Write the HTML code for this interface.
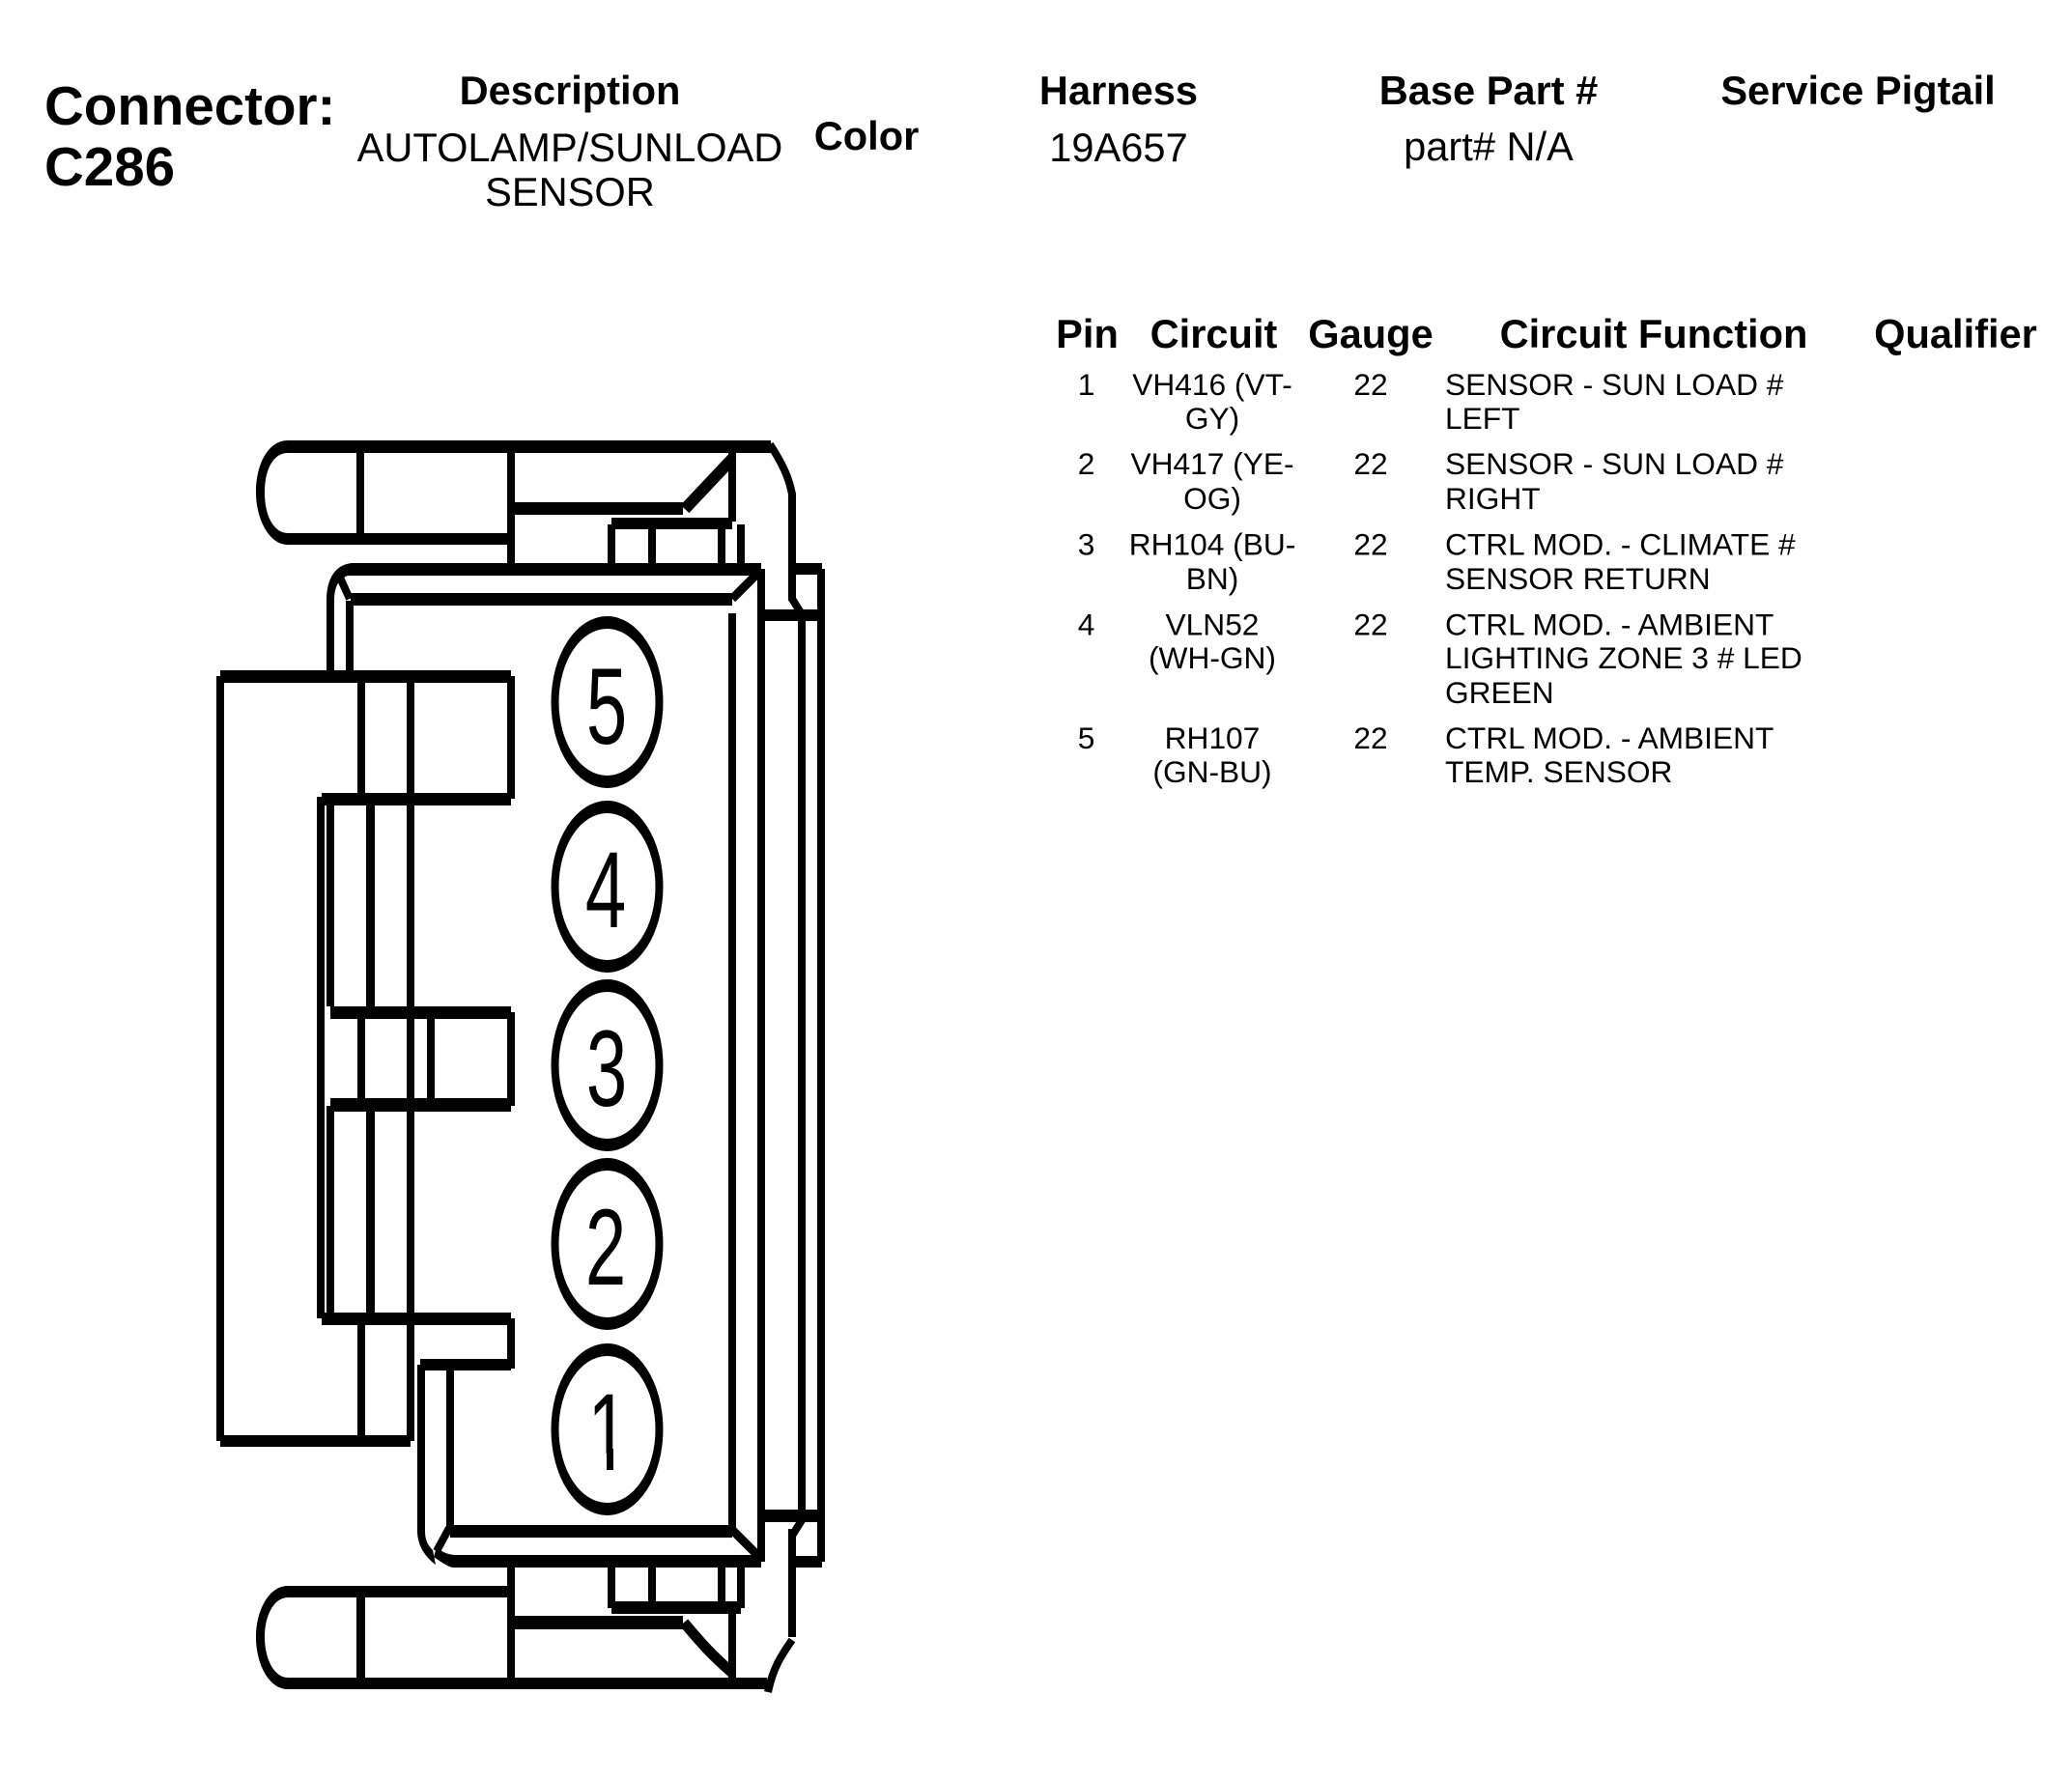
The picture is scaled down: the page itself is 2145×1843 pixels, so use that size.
<!DOCTYPE html>
<html>
<head>
<meta charset="utf-8">
<style>
html,body{margin:0;padding:0;background:#fff;}
svg{display:block;}
text{font-family:"Liberation Sans",sans-serif;fill:#000;}
.b{font-weight:bold;}
.h{font-size:41.6px;font-weight:bold;text-anchor:middle;}
.v{font-size:41.6px;text-anchor:middle;}
.t{font-size:31.7px;}
.m{text-anchor:middle;}
.d{font-size:112px;text-anchor:middle;}
</style>
</head>
<body>
<svg xmlns="http://www.w3.org/2000/svg" width="2145" height="1843" viewBox="0 0 2145 1843">
<defs><clipPath id="c1"><rect x="560" y="1400" width="140" height="105"/></clipPath></defs>
<rect width="2145" height="1843" fill="#fff"/>

<!-- Header -->
<text class="b" x="46" y="129" font-size="56.5">Connector:</text>
<text class="b" x="46" y="192" font-size="56.5">C286</text>
<text class="h" x="590" y="108">Description</text>
<text class="v" x="590" y="167">AUTOLAMP/SUNLOAD</text>
<text class="v" x="590" y="213">SENSOR</text>
<text class="h" x="897" y="155">Color</text>
<text class="h" x="1158" y="108">Harness</text>
<text class="v" x="1158" y="167">19A657</text>
<text class="h" x="1541" y="108">Base Part #</text>
<text class="v" x="1541" y="166">part# N/A</text>
<text class="h" x="1923.5" y="108">Service Pigtail</text>

<!-- Table -->
<text class="h" x="1125.5" y="360">Pin</text>
<text class="h" x="1256.5" y="360">Circuit</text>
<text class="h" x="1419" y="360">Gauge</text>
<text class="h" x="1712" y="360">Circuit Function</text>
<text class="h" x="2024.5" y="360">Qualifier</text>

<g>
<text class="t m" x="1124.5" y="409">1</text>
<text class="t m" x="1255" y="409">VH416 (VT-</text>
<text class="t m" x="1255" y="444">GY)</text>
<text class="t m" x="1419" y="409">22</text>
<text class="t" x="1496" y="409">SENSOR - SUN LOAD #</text>
<text class="t" x="1496" y="444">LEFT</text>

<text class="t m" x="1124.5" y="491">2</text>
<text class="t m" x="1255" y="491">VH417 (YE-</text>
<text class="t m" x="1255" y="527">OG)</text>
<text class="t m" x="1419" y="491">22</text>
<text class="t" x="1496" y="491">SENSOR - SUN LOAD #</text>
<text class="t" x="1496" y="527">RIGHT</text>

<text class="t m" x="1124.5" y="574.5">3</text>
<text class="t m" x="1255" y="574.5">RH104 (BU-</text>
<text class="t m" x="1255" y="610">BN)</text>
<text class="t m" x="1419" y="574.5">22</text>
<text class="t" x="1496" y="574.5">CTRL MOD. - CLIMATE #</text>
<text class="t" x="1496" y="610">SENSOR RETURN</text>

<text class="t m" x="1124.5" y="657.5">4</text>
<text class="t m" x="1255" y="657.5">VLN52</text>
<text class="t m" x="1255" y="692">(WH-GN)</text>
<text class="t m" x="1419" y="657.5">22</text>
<text class="t" x="1496" y="657.5">CTRL MOD. - AMBIENT</text>
<text class="t" x="1496" y="692">LIGHTING ZONE 3 # LED</text>
<text class="t" x="1496" y="728">GREEN</text>

<text class="t m" x="1124.5" y="775">5</text>
<text class="t m" x="1255" y="775">RH107</text>
<text class="t m" x="1255" y="810">(GN-BU)</text>
<text class="t m" x="1419" y="775">22</text>
<text class="t" x="1496" y="775">CTRL MOD. - AMBIENT</text>
<text class="t" x="1496" y="810">TEMP. SENSOR</text>
</g>

<!-- Connector drawing -->
<g fill="#000">
<!-- top cap -->
<rect x="298" y="456" width="500" height="13"/>
<rect x="298" y="552" width="231" height="12"/>
<rect x="369" y="462" width="8" height="98"/>
<rect x="525" y="462" width="8" height="125"/>
<rect x="533" y="520" width="174" height="13"/>
<rect x="754" y="465" width="8" height="75"/>
<rect x="633" y="536" width="125" height="12"/>
<rect x="629" y="543" width="8" height="42"/>
<rect x="671" y="545" width="8" height="40"/>
<rect x="743" y="545" width="8" height="40"/>
<rect x="763" y="543" width="8" height="42"/>
<rect x="816" y="510" width="8" height="112"/>
<path d="M298 456 C278 456 265 480 265 510 C265 536 278 564 298 564 L298 552 C284 552 274 535 274 510 C274 484 284 469 298 469 Z"/>
<path d="M298 1642 C278 1642 265 1668 265 1695 C265 1722 278 1749 298 1749 L298 1737 C284 1737 274 1718 274 1695 C274 1672 284 1654 298 1654 Z"/>

<!-- main top -->
<rect x="363" y="583" width="425" height="13"/>
<rect x="363" y="614" width="395" height="13"/>
<rect x="338" y="620" width="8" height="76"/>
<rect x="358" y="622" width="8" height="74"/>
<rect x="784" y="589" width="8" height="1028"/>
<rect x="754" y="635" width="8" height="950"/>
<rect x="824" y="583" width="27" height="12"/>
<rect x="846" y="589" width="8" height="1028"/>
<rect x="789" y="631" width="63" height="12"/>
<rect x="826" y="640" width="8" height="925"/>
<path d="M365 583 C348 584 338 598 338 622 L346 622 C346 608 350 600 360 596 L365 596 Z"/>

<!-- left box -->
<rect x="228" y="694" width="301" height="13"/>
<rect x="224" y="700" width="8" height="792"/>
<rect x="228" y="1486" width="197" height="12"/>
<rect x="525" y="700" width="8" height="127"/>
<rect x="370" y="707" width="8" height="115"/>
<rect x="421" y="707" width="8" height="785"/>
<rect x="333" y="821" width="196" height="13"/>
<rect x="328" y="825" width="8" height="540"/>
<rect x="338" y="830" width="8" height="212"/>
<rect x="379" y="832" width="9" height="210"/>
<rect x="342" y="1042" width="187" height="13"/>
<rect x="525" y="1048" width="8" height="97"/>
<rect x="370" y="1055" width="8" height="82"/>
<rect x="442" y="1055" width="8" height="82"/>
<rect x="342" y="1137" width="187" height="14"/>
<rect x="338" y="1145" width="8" height="215"/>
<rect x="379" y="1151" width="9" height="209"/>
<rect x="333" y="1359" width="196" height="13"/>
<rect x="370" y="1372" width="8" height="118"/>
<rect x="525" y="1365" width="8" height="52"/>
<rect x="435" y="1407" width="94" height="12"/>
<rect x="432" y="1413" width="8" height="172"/>
<rect x="462" y="1419" width="8" height="165"/>

<!-- main bottom -->
<rect x="466" y="1579" width="292" height="13"/>
<rect x="468" y="1610" width="320" height="13"/>
<rect x="792" y="1563" width="55" height="13"/>
<rect x="824" y="1611" width="27" height="12"/>
<rect x="816" y="1583" width="8" height="112"/>
<path d="M432 1585 L440 1585 C440 1595 443 1600 448 1605 L451 1620 C440 1612 432 1600 432 1585 Z"/>
<path d="M452 1602 C460 1609 468 1611 480 1610 L480 1623 L468 1623 C460 1620 455 1616 449 1612 Z"/>

<!-- bottom cap -->
<rect x="525" y="1622" width="8" height="117"/>
<rect x="298" y="1642" width="231" height="12"/>
<rect x="298" y="1737" width="496" height="12"/>
<rect x="369" y="1650" width="9" height="90"/>
<rect x="533" y="1673" width="174" height="14"/>
<rect x="633" y="1658" width="134" height="13"/>
<rect x="629" y="1622" width="8" height="43"/>
<rect x="671" y="1622" width="8" height="38"/>
<rect x="743" y="1622" width="8" height="38"/>
<rect x="763" y="1622" width="8" height="43"/>
<rect x="754" y="1670" width="8" height="68"/>
</g>

<g fill="none" stroke="#000">
<path d="M709 527 L758 475" stroke-width="12"/>
<path d="M708 1680 C725 1700 735 1712 758 1732" stroke-width="11"/>
<!-- top right curve -->
<path d="M797 460 C810 480 817 495 820 512" stroke-width="8"/>
<path d="M820 620 L830 636" stroke-width="8"/>
<!-- bottom right curve -->
<path d="M830 1574 L820 1590" stroke-width="8"/>
<path d="M820 1698 C808 1715 800 1728 795 1752" stroke-width="8"/>
<!-- main corners -->
<path d="M352 598 L362 620" stroke-width="8"/>
<path d="M758 620 L786 592" stroke-width="9"/>
<path d="M465 1582 L452 1606" stroke-width="8"/>
<path d="M758 1584 L786 1612" stroke-width="9"/>
</g>

<!-- pin ellipses -->
<g>
<ellipse cx="628.5" cy="727" rx="58" ry="89" fill="#000"/><ellipse cx="628.5" cy="727" rx="50" ry="76" fill="#fff"/>
<ellipse cx="628.5" cy="918" rx="58" ry="89" fill="#000"/><ellipse cx="628.5" cy="918" rx="50" ry="76" fill="#fff"/>
<ellipse cx="628.5" cy="1103" rx="58" ry="89" fill="#000"/><ellipse cx="628.5" cy="1103" rx="50" ry="76" fill="#fff"/>
<ellipse cx="628.5" cy="1288" rx="58" ry="89" fill="#000"/><ellipse cx="628.5" cy="1288" rx="50" ry="76" fill="#fff"/>
<ellipse cx="628.5" cy="1480" rx="58" ry="89" fill="#000"/><ellipse cx="628.5" cy="1480" rx="50" ry="76" fill="#fff"/>
</g>
<text class="d" transform="translate(628,770) scale(.68,1)">5</text>
<text class="d" transform="translate(627,960) scale(.68,1)">4</text>
<text class="d" transform="translate(628,1145) scale(.68,1)">3</text>
<text class="d" transform="translate(627,1330) scale(.68,1)">2</text>
<g clip-path="url(#c1)"><text class="d" transform="translate(629.5,1521) scale(.68,1)">1</text></g>
<rect x="628" y="1500" width="7" height="22" fill="#000"/>
</svg>
</body>
</html>
